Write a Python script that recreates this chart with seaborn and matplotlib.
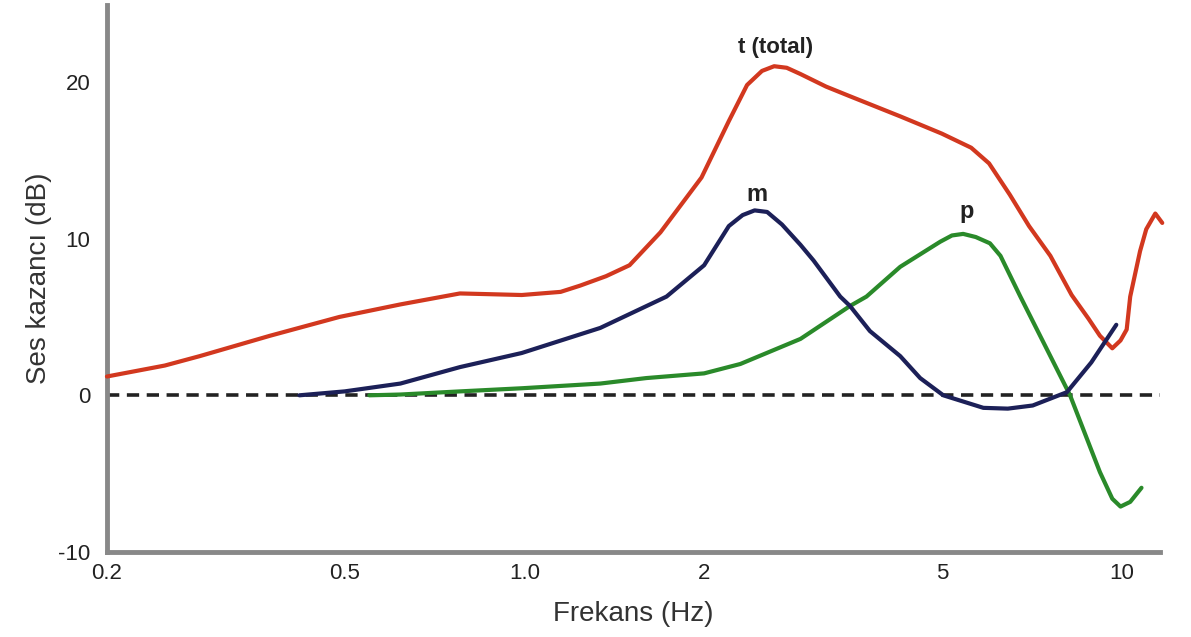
import matplotlib
matplotlib.use("Agg")
import matplotlib.pyplot as plt
import seaborn as sns
import pandas as pd

# Values (frequency on log scale, gain in dB)
freq_total = [0.2, 0.25, 0.286, 0.375, 0.49, 0.62, 0.78, 0.88, 0.99, 1.15, 1.24, 1.37, 1.5, 1.69,
              1.98, 2.2, 2.36, 2.5, 2.62, 2.75, 2.9, 3.2, 3.5, 4.26, 5.0, 5.6, 6.0, 6.5, 7.0, 7.6, 8.25,
              8.8, 9.2, 9.65, 9.96, 10.2, 10.34, 10.74, 11.0, 11.39, 11.7]
gain_total = [1.2, 1.9, 2.5, 3.8, 5.0, 5.8, 6.5, 6.45, 6.4, 6.6, 7.0, 7.6, 8.3, 10.4,
              13.9, 17.5, 19.8, 20.7, 21.0, 20.9, 20.5, 19.7, 19.1, 17.8, 16.7, 15.8, 14.8, 12.8, 10.8, 8.9, 6.4,
              4.9, 3.8, 3.0, 3.5, 4.2, 6.3, 9.2, 10.6, 11.6, 11.0]

freq_m = [0.42, 0.5, 0.62, 0.78, 0.99, 1.34, 1.73, 2.0, 2.2, 2.32, 2.43, 2.55, 2.7, 2.9, 3.05,
          3.38, 3.51, 3.79, 4.26, 4.6, 5.03, 5.87, 6.45, 7.1, 8.1, 8.9, 9.8]
gain_m = [0.0, 0.25, 0.75, 1.8, 2.7, 4.3, 6.3, 8.3, 10.8, 11.5, 11.8, 11.7, 10.9, 9.6, 8.6,
          6.3, 5.7, 4.1, 2.5, 1.1, 0.0, -0.8, -0.85, -0.65, 0.2, 2.1, 4.5]

freq_p = [0.55, 0.62, 0.78, 0.99, 1.34, 1.6, 2.0, 2.3, 2.9, 3.51, 3.74, 4.26, 4.97, 5.2, 5.43, 5.7,
          6.02, 6.27, 6.77, 7.6, 8.2, 8.86, 9.2, 9.65, 9.96, 10.34, 10.8]
gain_p = [0.0, 0.05, 0.25, 0.45, 0.75, 1.1, 1.4, 2.0, 3.6, 5.7, 6.3, 8.2, 9.8, 10.2, 10.3, 10.1,
          9.7, 8.9, 6.3, 2.5, 0.0, -3.3, -4.9, -6.6, -7.1, -6.8, -5.9]

xticks = [0.2, 0.5, 1.0, 2, 5, 10]
xtick_labels = ["0.2", "0.5", "1.0", "2", "5", "10"]
yticks = [-10, 0, 10, 20]

sns.set_style("white")
plt.rcParams['font.family'] = ['Liberation Sans', 'DejaVu Sans']
plt.rcParams['axes.unicode_minus'] = False

fig, ax = plt.subplots(figsize=(11.91, 6.37), dpi=100)
fig.subplots_adjust(left=0.0898, right=0.974, bottom=0.1334, top=0.992)

# zero reference line
ax.axhline(0, color="#222222", linewidth=2.6, linestyle=(0, (3.4, 2.1)), zorder=1)

df_t = pd.DataFrame({"f": freq_total, "g": gain_total})
df_m = pd.DataFrame({"f": freq_m, "g": gain_m})
df_p = pd.DataFrame({"f": freq_p, "g": gain_p})

sns.lineplot(data=df_t, x="f", y="g", color="#d2381f", linewidth=3.0, estimator=None, ax=ax,
             zorder=3, clip_on=False)
sns.lineplot(data=df_p, x="f", y="g", color="#2a8a2a", linewidth=3.0, estimator=None, ax=ax, zorder=3)
sns.lineplot(data=df_m, x="f", y="g", color="#1c2058", linewidth=3.0, estimator=None, ax=ax, zorder=4)

ax.set_xscale("log")
ax.set_xlim(0.2, 11.6)
ax.set_ylim(-10, 24.9)
ax.set_xticks(xticks)
ax.set_xticklabels(xtick_labels)
ax.minorticks_off()
ax.set_yticks(yticks)

# curve labels
ax.text(2.63, 22.2, "t (total)", fontsize=16, fontweight="bold", color="#222222", ha="center", va="center")
ax.text(2.45, 12.8, "m", fontsize=17, fontweight="bold", color="#222222", ha="center", va="center")
ax.text(5.5, 11.7, "p", fontsize=17, fontweight="bold", color="#222222", ha="center", va="center")

ax.set_xlabel("Frekans (Hz)", fontsize=20, color="#333333", labelpad=12)
ax.set_ylabel("Ses kazancı (dB)", fontsize=20, color="#333333", labelpad=4)

for side in ["top", "right"]:
    ax.spines[side].set_visible(False)
for side in ["left", "bottom"]:
    ax.spines[side].set_color("#888888")
    ax.spines[side].set_linewidth(3.5)

ax.tick_params(axis="both", direction="in", length=4, width=1.5, color="#555555",
               labelsize=16, labelcolor="#222222")
ax.tick_params(axis="x", pad=8)
ax.tick_params(axis="y", pad=12)

plt.savefig("out.png", dpi=100)
